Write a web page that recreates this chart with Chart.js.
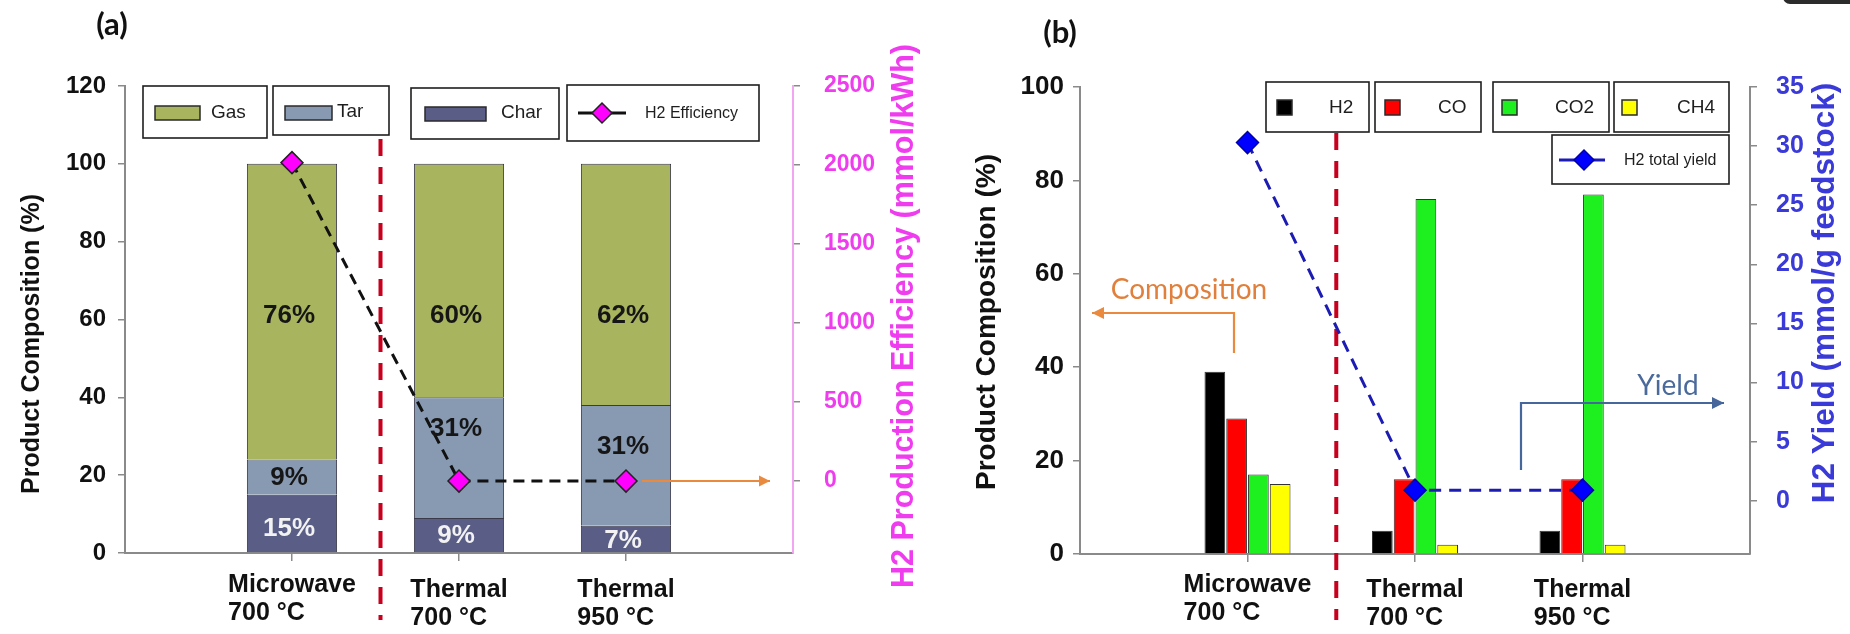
<!DOCTYPE html>
<html>
<head>
<meta charset="utf-8">
<script src="https://cdn.jsdelivr.net/npm/chart.js@4.4.0/dist/chart.umd.min.js"></script>
<style>
  html, body { margin: 0; padding: 0; background: #fff; }
  #wrap { position: relative; width: 1850px; height: 634px; overflow: hidden; }
  canvas { position: absolute; top: 0; }
  #chartA { left: 0; }
  #chartB { left: 925px; }
</style>
</head>
<body>
<div id="wrap">
  <canvas id="chartA" width="925" height="634"></canvas>
  <canvas id="chartB" width="925" height="634"></canvas>
</div>
<script>
// shared categories
const categories = [['Microwave', '700 °C'], ['Thermal', '700 °C'], ['Thermal', '950 °C']];

// (a) product composition (%) and H2 production efficiency (mmol/kWh)
const charValues = [15, 9, 7];
const tarValues = [9, 31, 31];
const gasValues = [76, 60, 62];
const h2Efficiency = [2015, 0, 0];
const efficiencyTicks = [0, 500, 1000, 1500, 2000, 2500];

// (b) gas composition (%) and H2 total yield (mmol/g feedstock)
const h2Values = [39, 5, 5];
const coValues = [29, 16, 16];
const co2Values = [17, 76, 77];
const ch4Values = [15, 2, 2];
const h2Yield = [30.3, 0.9, 0.9];
const yieldTicks = [0, 5, 10, 15, 20, 25, 30, 35];

const FONT = '"Liberation Sans", Arial, sans-serif';
Chart.defaults.font.family = FONT;

const xy = arr => arr.map((v, i) => ({ x: i + 1, y: v }));
const plain = v => String(v);

function arrow(ctx, pts, color, width, head) {
  ctx.save();
  ctx.strokeStyle = color;
  ctx.fillStyle = color;
  ctx.lineWidth = width;
  ctx.beginPath();
  ctx.moveTo(pts[0][0], pts[0][1]);
  for (let i = 1; i < pts.length; i++) ctx.lineTo(pts[i][0], pts[i][1]);
  ctx.stroke();
  const [x1, y1] = pts[pts.length - 1];
  const [x0, y0] = pts[pts.length - 2];
  const a = Math.atan2(y1 - y0, x1 - x0);
  const bx = x1 - head * Math.cos(a), by = y1 - head * Math.sin(a);
  const w = head * 0.5;
  ctx.beginPath();
  ctx.moveTo(x1, y1);
  ctx.lineTo(bx + w * Math.sin(a), by - w * Math.cos(a));
  ctx.lineTo(bx - w * Math.sin(a), by + w * Math.cos(a));
  ctx.closePath();
  ctx.fill();
  ctx.restore();
}

function vText(ctx, text, x, y, font, color) {
  ctx.save();
  ctx.translate(x, y);
  ctx.rotate(-Math.PI / 2);
  ctx.font = font;
  ctx.fillStyle = color;
  ctx.textAlign = 'center';
  ctx.textBaseline = 'middle';
  ctx.fillText(text, 0, 0);
  ctx.restore();
}

function legendBox(ctx, x0, y0, x1, y1) {
  ctx.save();
  ctx.fillStyle = '#fff';
  ctx.fillRect(x0, y0, x1 - x0, y1 - y0);
  ctx.strokeStyle = '#1e1e1e';
  ctx.lineWidth = 1.6;
  ctx.strokeRect(x0, y0, x1 - x0, y1 - y0);
  ctx.restore();
}

function swatch(ctx, x, y, w, h, color) {
  ctx.save();
  ctx.fillStyle = color;
  ctx.fillRect(x, y, w, h);
  ctx.strokeStyle = '#2a2a2a';
  ctx.lineWidth = 1.5;
  ctx.strokeRect(x, y, w, h);
  ctx.restore();
}

function diamond(ctx, x, y, r, fill, stroke) {
  ctx.save();
  ctx.beginPath();
  ctx.moveTo(x - r, y); ctx.lineTo(x, y - r); ctx.lineTo(x + r, y); ctx.lineTo(x, y + r);
  ctx.closePath();
  ctx.fillStyle = fill; ctx.fill();
  ctx.strokeStyle = stroke; ctx.lineWidth = 1.5; ctx.stroke();
  ctx.restore();
}

function label(ctx, text, x, y, font, color, align) {
  ctx.save();
  ctx.font = font;
  ctx.fillStyle = color;
  ctx.textAlign = align || 'left';
  ctx.textBaseline = 'middle';
  ctx.fillText(text, x, y);
  ctx.restore();
}

function xLabels(chart) {
  const ctx = chart.ctx, x = chart.scales.x;
  ctx.save();
  ctx.font = 'bold 25px ' + FONT;
  ctx.fillStyle = '#111';
  ctx.textBaseline = 'middle';
  categories.forEach((lines, i) => {
    const px = x.getPixelForValue(i + 1);
    const w = Math.max(...lines.map(l => ctx.measureText(l).width));
    const drop = i === 0 ? 0 : 5;
    lines.forEach((l, j) => ctx.fillText(l, px - w / 2, 585 + drop + j * 28.5));
  });
  ctx.restore();
}

function dividerLine(chart, top, bottom) {
  const ctx = chart.ctx;
  const px = chart.scales.x.getPixelForValue(1.53);
  ctx.save();
  ctx.strokeStyle = '#c8001e';
  ctx.lineWidth = 4;
  ctx.setLineDash([17, 11]);
  ctx.beginPath();
  ctx.moveTo(px, top);
  ctx.lineTo(px, bottom);
  ctx.stroke();
  ctx.restore();
}

const gasColor = '#a9b45e';
const tarColor = '#8899b2';
const charColor = '#5a5e86';

// label levels inside the stacked bars (value units on the left axis)
const barLabelLevels = { Char: [6.3, 4.4, 3.2], Tar: [19.2, 32, 27.2], Gas: [61, 61, 61] };

const overlayA = {
  id: 'overlayA',
  beforeDatasetsDraw(chart) {
    dividerLine(chart, 139, 620);
  },
  afterDatasetsDraw(chart) {
    const ctx = chart.ctx;
    const xs = chart.scales.x, ys = chart.scales.y;
    [['Char', charValues, '#f2f2f2'], ['Tar', tarValues, '#161616'], ['Gas', gasValues, '#161616']].forEach(([name, vals, col]) => {
      vals.forEach((v, i) => {
        label(ctx, v + '%', xs.getPixelForValue(i + 1) - 3, ys.getPixelForValue(barLabelLevels[name][i]),
          'bold 26px ' + FONT, col, 'center');
      });
    });
  },
  afterDraw(chart) {
    const ctx = chart.ctx;
    xLabels(chart);
    label(ctx, '(a)', 112, 25, 'bold 31px Lato, ' + FONT, '#111', 'center');
    vText(ctx, 'Product Composition (%)', 32, 344, 'bold 25px ' + FONT, '#111');
    vText(ctx, 'H2 Production Efficiency (mmol/kWh)', 905, 316, 'bold 30.5px ' + FONT, '#ee3cee');
    arrow(ctx, [[642, 481], [770, 481]], '#e98a3e', 2.2, 11);
    // legend
    legendBox(ctx, 143, 86, 267, 138);
    swatch(ctx, 155, 106, 45, 14, gasColor);
    label(ctx, 'Gas', 211, 113, '19px ' + FONT, '#1e1e1e');
    legendBox(ctx, 273, 86, 389, 135);
    swatch(ctx, 285, 106, 47, 14, tarColor);
    label(ctx, 'Tar', 337, 112, '19px ' + FONT, '#1e1e1e');
    legendBox(ctx, 411, 88, 559, 139);
    swatch(ctx, 425, 107, 61, 14, charColor);
    label(ctx, 'Char', 501, 113, '19px ' + FONT, '#1e1e1e');
    legendBox(ctx, 567, 85, 759, 141);
    ctx.save();
    ctx.strokeStyle = '#111'; ctx.lineWidth = 3;
    ctx.beginPath(); ctx.moveTo(578, 113); ctx.lineTo(626, 113); ctx.stroke();
    ctx.restore();
    diamond(ctx, 602, 113, 10, '#ff00ff', '#222');
    label(ctx, 'H2 Efficiency', 645, 114, '16px ' + FONT, '#1e1e1e');
  }
};

new Chart(document.getElementById('chartA'), {
  type: 'bar',
  data: {
    datasets: [
      { label: 'Char', data: xy(charValues), backgroundColor: charColor, borderColor: '#3a3a4a', borderWidth: 1, order: 1 },
      { label: 'Tar', data: xy(tarValues), backgroundColor: tarColor, borderColor: '#3a3a4a', borderWidth: 1, order: 1 },
      { label: 'Gas', data: xy(gasValues), backgroundColor: gasColor, borderColor: '#3a3a4a', borderWidth: 1, order: 1 },
      {
        type: 'line', label: 'H2 Efficiency', data: xy(h2Efficiency), yAxisID: 'y2', order: 0,
        borderColor: '#111', borderWidth: 3, borderDash: [11, 7],
        pointStyle: 'rectRot', pointRadius: 11, pointBackgroundColor: '#ff00ff',
        pointBorderColor: '#222', pointBorderWidth: 1.5
      }
    ]
  },
  options: {
    responsive: false,
    animation: false,
    devicePixelRatio: 1,
    categoryPercentage: 1,
    barPercentage: 0.54,
    layout: { padding: { top: 86, left: 0, right: 0, bottom: 0 } },
    plugins: { legend: { display: false }, tooltip: { enabled: false } },
    scales: {
      x: {
        type: 'linear', min: 0, max: 4, offset: false, stacked: true,
        afterBuildTicks: s => { s.ticks = categories.map((c, i) => ({ value: i + 1 })); },
        afterFit: s => { s.height = 81; },
        ticks: { display: false },
        grid: { drawOnChartArea: false, offset: false, tickLength: 8, color: '#8a8a8a', lineWidth: 1.5 },
        border: { color: '#8a8a8a', width: 2 }
      },
      y: {
        position: 'left', min: 0, max: 120, stacked: true,
        afterFit: s => { s.width = 125; },
        ticks: { stepSize: 20, color: '#111', padding: 12, callback: plain, font: { size: 24, weight: 'bold' } },
        grid: { drawOnChartArea: false, tickLength: 7, color: '#8a8a8a', lineWidth: 1.5 },
        border: { color: '#8a8a8a', width: 2 }
      },
      y2: {
        position: 'right', min: -455, max: 2500,
        afterBuildTicks: s => { s.ticks = efficiencyTicks.map(v => ({ value: v })); },
        afterFit: s => { s.width = 132; },
        ticks: { color: '#ee3cee', padding: 24, callback: plain, font: { size: 23, weight: 'bold' } },
        grid: { drawOnChartArea: false, tickLength: 7, color: '#8a8a8a', lineWidth: 1.5 },
        border: { color: '#f2a6f2', width: 2 }
      }
    }
  },
  plugins: [overlayA]
});

const h2Color = '#000000';
const coColor = '#ff0000';
const co2Color = '#1eef1e';
const ch4Color = '#ffff00';
const yieldColor = '#3a3ad8';

const overlayB = {
  id: 'overlayB',
  beforeDatasetsDraw(chart) {
    dividerLine(chart, 133, 620);
  },
  afterDraw(chart) {
    const ctx = chart.ctx;
    xLabels(chart);
    // small dark tab in the corner of the source image
    ctx.save();
    ctx.fillStyle = '#2b2b2b';
    ctx.beginPath();
    ctx.roundRect(858, -12, 80, 16, 7);
    ctx.fill();
    ctx.restore();
    label(ctx, '(b)', 135, 33, 'bold 31px Lato, ' + FONT, '#111', 'center');
    vText(ctx, 'Product Composition (%)', 62, 322, 'bold 28px ' + FONT, '#111');
    vText(ctx, 'H2 Yield (mmol/g feedstock)', 900, 293, 'bold 31.5px ' + FONT, yieldColor);
    label(ctx, 'Composition', 264, 290, '28px Lato, ' + FONT, '#e0803c', 'center');
    arrow(ctx, [[309, 353], [309, 313], [167, 313]], '#e98a3e', 2.2, 12);
    label(ctx, 'Yield', 743, 386, '28px Lato, ' + FONT, '#4a6a9c', 'center');
    arrow(ctx, [[596, 470], [596, 403], [799, 403]], '#45679c', 2.2, 12);
    // legend
    [[341, 444, 352, 404, 'H2', h2Color], [450, 556, 460, 513, 'CO', coColor],
     [568, 684, 577, 630, 'CO2', co2Color], [689, 804, 697, 752, 'CH4', ch4Color]].forEach(([x0, x1, sx, tx, t, c]) => {
      legendBox(ctx, x0, 82, x1, 132);
      swatch(ctx, sx, 100, 15, 15, c);
      label(ctx, t, tx, 108, '19px ' + FONT, '#1e1e1e');
    });
    legendBox(ctx, 627, 135, 804, 184);
    ctx.save();
    ctx.strokeStyle = '#1c1cb4'; ctx.lineWidth = 3;
    ctx.beginPath(); ctx.moveTo(634, 160); ctx.lineTo(680, 160); ctx.stroke();
    ctx.restore();
    diamond(ctx, 659, 160, 10, '#0000ff', '#0000aa');
    label(ctx, 'H2 total yield', 699, 161, '16px ' + FONT, '#1e1e1e');
  }
};

const barStyle = { borderColor: '#333', borderWidth: 1, order: 1 };

new Chart(document.getElementById('chartB'), {
  type: 'bar',
  data: {
    datasets: [
      { label: 'H2', data: xy(h2Values), backgroundColor: h2Color, ...barStyle },
      { label: 'CO', data: xy(coValues), backgroundColor: coColor, ...barStyle },
      { label: 'CO2', data: xy(co2Values), backgroundColor: co2Color, ...barStyle },
      { label: 'CH4', data: xy(ch4Values), backgroundColor: ch4Color, ...barStyle },
      {
        type: 'line', label: 'H2 total yield', data: xy(h2Yield), yAxisID: 'y2', order: 0,
        borderColor: '#1c1cb4', borderWidth: 3, borderDash: [12, 8],
        pointStyle: 'rectRot', pointRadius: 11, pointBackgroundColor: '#0000ff',
        pointBorderColor: '#0000aa', pointBorderWidth: 1.5
      }
    ]
  },
  options: {
    responsive: false,
    animation: false,
    devicePixelRatio: 1,
    categoryPercentage: 0.52,
    barPercentage: 0.95,
    layout: { padding: { top: 87, left: 0, right: 0, bottom: 0 } },
    plugins: { legend: { display: false }, tooltip: { enabled: false } },
    scales: {
      x: {
        type: 'linear', min: 0, max: 4, offset: false,
        afterBuildTicks: s => { s.ticks = categories.map((c, i) => ({ value: i + 1 })); },
        afterFit: s => { s.height = 80; },
        ticks: { display: false },
        grid: { drawOnChartArea: false, offset: false, tickLength: 8, color: '#8a8a8a', lineWidth: 1.5 },
        border: { color: '#8a8a8a', width: 2 }
      },
      y: {
        position: 'left', min: 0, max: 100,
        afterFit: s => { s.width = 155; },
        ticks: { stepSize: 20, color: '#111', padding: 9, callback: plain, font: { size: 26, weight: 'bold' } },
        grid: { drawOnChartArea: false, tickLength: 7, color: '#8a8a8a', lineWidth: 1.5 },
        border: { color: '#8a8a8a', width: 2 }
      },
      y2: {
        position: 'right', min: -4.5, max: 35,
        afterBuildTicks: s => { s.ticks = yieldTicks.map(v => ({ value: v })); },
        afterFit: s => { s.width = 100; },
        ticks: { color: yieldColor, padding: 19, callback: plain, font: { size: 25, weight: 'bold' } },
        grid: { drawOnChartArea: false, tickLength: 7, color: '#8a8a8a', lineWidth: 1.5 },
        border: { color: '#8a8a8a', width: 2 }
      }
    }
  },
  plugins: [overlayB]
});
</script>
</body>
</html>
